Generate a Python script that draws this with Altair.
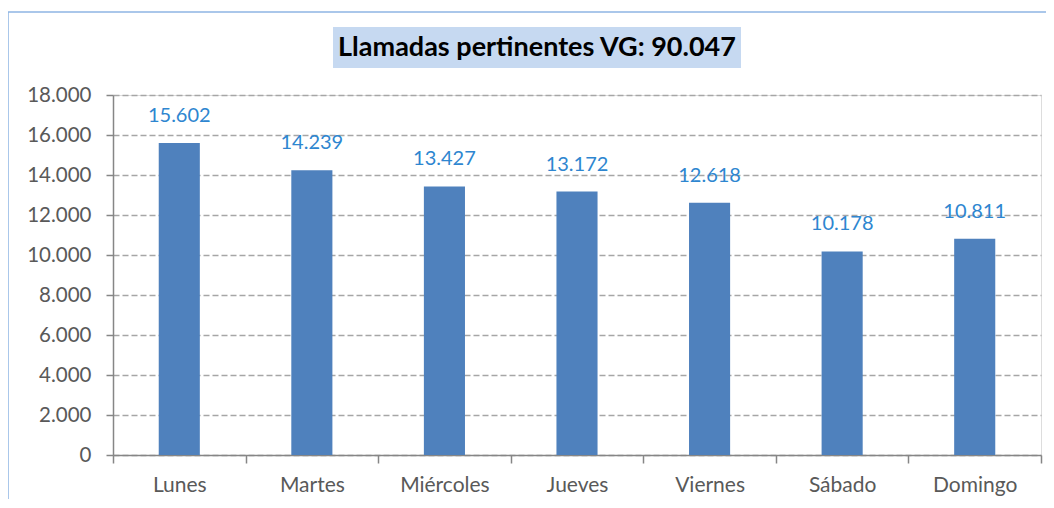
import altair as alt
import pandas as pd

days = ["Lunes", "Martes", "Miércoles", "Jueves", "Viernes", "Sábado", "Domingo"]
calls = [15602, 14239, 13427, 13172, 12618, 10178, 10811]
title_text = "Llamadas pertinentes VG: 90.047"
y_ticks = [0, 2000, 4000, 6000, 8000, 10000, 12000, 14000, 16000, 18000]

df = pd.DataFrame({
    "dia": days,
    "llamadas": calls,
    "etiqueta": [f"{v:,}".replace(",", ".") for v in calls],
})

FONT = "Lato"
W, H = 928, 360

x_enc = alt.X(
    "dia:N",
    sort=days,
    title=None,
    scale=alt.Scale(paddingInner=0, paddingOuter=0),
    axis=alt.Axis(
        labelAngle=0, labelFontSize=21, labelColor="#595959", labelFont=FONT,
        labelPadding=11, tickBand="extent", ticks=True, tickSize=8,
        tickColor="#868686", tickWidth=1.5, domainColor="#868686",
        domainWidth=1.5, grid=False,
    ),
)
y_enc = alt.Y(
    "llamadas:Q",
    title=None,
    scale=alt.Scale(domain=[0, 18000], nice=False, zero=True),
    axis=alt.Axis(
        values=y_ticks,
        labelOverlap=False,
        labelExpr="replace(format(datum.value, ','), ',', '.')",
        labelFontSize=20.5, labelColor="#595959", labelFont=FONT, labelPadding=15,
        ticks=True, tickSize=7, tickColor="#868686", tickWidth=1.5,
        domainColor="#868686", domainWidth=1.5,
        grid=True, gridDash=[6, 3], gridColor="#A6A6A6", gridWidth=1.3,
    ),
)

base = alt.Chart(df).encode(x=x_enc, y=y_enc)

bars = base.mark_bar(color="#4F81BD", width=alt.RelativeBandSize(0.31))

labels = base.mark_text(
    dy=-17, baseline="bottom", fontSize=20, font=FONT, color="#2E86D0"
).encode(text="etiqueta:N")

one = alt.Data(values=[{}])

title_box = alt.Chart(one).mark_rect(color="#C6D9F1").encode(
    x=alt.value(220), x2=alt.value(628), y=alt.value(-68), y2=alt.value(-27)
)
title_lbl = alt.Chart(one).mark_text(
    fontSize=27, fontWeight="bold", font=FONT, color="#000000",
    align="center", baseline="middle"
).encode(x=alt.value(424), y=alt.value(-47), text=alt.value(title_text))

border_top = alt.Chart(one).mark_rule(color="#8EB4E3", strokeWidth=1.5).encode(
    x=alt.value(-105), x2=alt.value(960), y=alt.value(-83)
)
border_left = alt.Chart(one).mark_rule(color="#8EB4E3", strokeWidth=1.5).encode(
    x=alt.value(-105), y=alt.value(-83), y2=alt.value(500)
)

chart = alt.layer(
    bars, labels, border_top, border_left, title_box, title_lbl
).properties(
    width=W, height=H,
    autosize=alt.AutoSizeParams(type="none"),
    padding={"left": 105, "top": 87, "right": 5, "bottom": 44},
).configure_view(strokeWidth=0).configure(background="white")

chart.save("out.html", embed_options={"renderer": "svg", "actions": False})
